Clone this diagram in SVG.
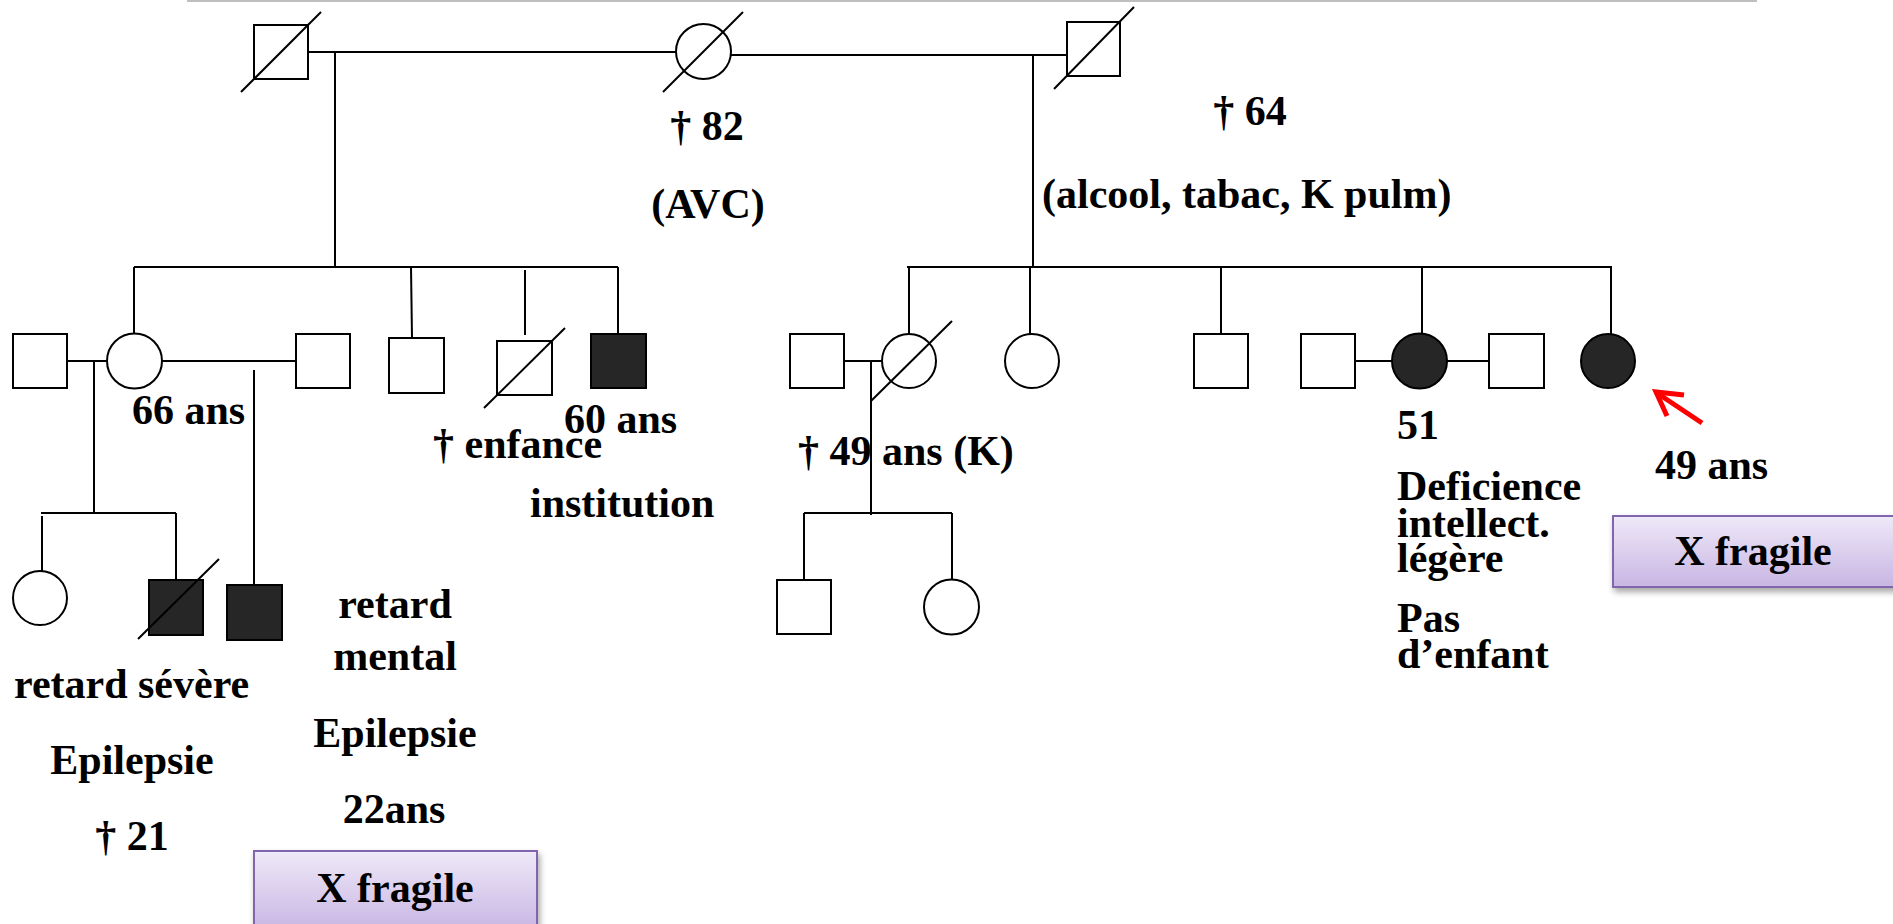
<svg xmlns="http://www.w3.org/2000/svg" width="1893" height="924" viewBox="0 0 1893 924">
<style>
.s{fill:#ffffff;stroke:#000;stroke-width:2}
.a{fill:#262626;stroke:#000;stroke-width:2}
.l{stroke:#000;stroke-width:2;fill:none}
text{font-family:"Liberation Serif","Times New Roman",serif;font-weight:bold;font-size:42px;fill:#000}
.c{text-anchor:middle}
.box{fill:url(#g);stroke:#8266ad;stroke-width:2;filter:url(#sh)}
</style>
<defs>
<linearGradient id="g" x1="0" y1="0" x2="0" y2="1">
<stop offset="0" stop-color="#efe9f8"/>
<stop offset="1" stop-color="#c8b5e3"/>
</linearGradient>
<filter id="sh" x="-10%" y="-20%" width="130%" height="160%">
<feDropShadow dx="2" dy="4" stdDeviation="3" flood-color="#000" flood-opacity="0.35"/>
</filter>
</defs>
<rect width="1893" height="924" fill="#fff"/>
<line x1="187" y1="1" x2="1757" y2="1" stroke="#bfbfbf" stroke-width="2"/>

<g id="connectors" class="l">
<line x1="308" y1="52" x2="676" y2="52"/>
<line x1="335" y1="52" x2="335" y2="267"/>
<line x1="731" y1="55" x2="1067" y2="55"/>
<line x1="1033" y1="55" x2="1033" y2="267"/>
<line x1="134" y1="267" x2="618" y2="267"/>
<line x1="134" y1="267" x2="134" y2="334"/>
<line x1="411" y1="267" x2="412" y2="338"/>
<line x1="525" y1="270" x2="525" y2="335"/>
<line x1="618" y1="267" x2="618" y2="334"/>
<line x1="67" y1="361" x2="107" y2="361"/>
<line x1="94" y1="361" x2="94" y2="513"/>
<line x1="162" y1="361" x2="299" y2="361"/>
<line x1="254" y1="370" x2="254" y2="585"/>
<line x1="41" y1="513" x2="176" y2="513"/>
<line x1="42" y1="516" x2="42" y2="582"/>
<line x1="176" y1="513" x2="176" y2="580"/>
<line x1="907" y1="267" x2="1612" y2="267"/>
<line x1="909" y1="267" x2="909" y2="334"/>
<line x1="1030" y1="267" x2="1030" y2="334"/>
<line x1="1221" y1="267" x2="1221" y2="334"/>
<line x1="1422" y1="267" x2="1422" y2="334"/>
<line x1="1611" y1="267" x2="1611" y2="334"/>
<line x1="842" y1="361" x2="882" y2="361"/>
<line x1="871" y1="361" x2="871" y2="515"/>
<line x1="804" y1="513" x2="952" y2="513"/>
<line x1="804" y1="513" x2="804" y2="580"/>
<line x1="952" y1="513" x2="952" y2="580"/>
<line x1="1353" y1="361" x2="1392" y2="361"/>
<line x1="1447" y1="361" x2="1489" y2="361"/>
</g>

<g id="gf1"><rect class="s" x="254" y="25" width="54" height="54"/><line class="l" x1="241" y1="92" x2="321" y2="12"/></g>
<g id="gm"><circle class="s" cx="703.5" cy="51.5" r="27.5"/><line class="l" x1="663" y1="92" x2="743" y2="12"/>
<text class="c" x="707" y="140">† 82</text><text class="c" x="708" y="218">(AVC)</text></g>
<g id="gf2"><rect class="s" x="1067" y="22" width="53" height="54"/><line class="l" x1="1054" y1="89" x2="1134" y2="7"/>
<text class="c" x="1250" y="125">† 64</text><text x="1042" y="208">(alcool, tabac, K pulm)</text></g>

<g id="h1"><rect class="s" x="13" y="334" width="54" height="54"/></g>
<g id="m66"><circle class="s" cx="134.5" cy="361" r="27.5"/><text x="132" y="424">66 ans</text></g>
<g id="h2"><rect class="s" x="296" y="334" width="54" height="54"/></g>
<g id="b1"><rect class="s" x="389" y="338" width="55" height="55"/></g>
<g id="b2"><rect class="s" x="497" y="341" width="55" height="54"/><line class="l" x1="484" y1="408" x2="565" y2="328"/>
<text x="433" y="458">† enfance</text></g>
<g id="b3"><rect class="a" x="591" y="334" width="55" height="54"/><text x="564" y="433">60 ans</text><text x="530" y="517">institution</text></g>

<g id="c1"><circle class="s" cx="40" cy="598" r="27"/></g>
<g id="c2"><rect class="a" x="149" y="580" width="54" height="55"/><line class="l" x1="138" y1="639" x2="219" y2="559"/>
<text x="14" y="698">retard sévère</text><text class="c" x="132" y="774">Epilepsie</text><text class="c" x="132" y="850">† 21</text></g>
<g id="c3"><rect class="a" x="227" y="585" width="55" height="55"/>
<text class="c" x="395" y="618">retard</text><text class="c" x="395" y="670">mental</text><text class="c" x="395" y="747">Epilepsie</text><text class="c" x="394" y="823">22ans</text></g>
<g id="xf1"><rect class="box" x="254" y="851" width="283" height="80"/><text class="c" x="395" y="902">X fragile</text></g>

<g id="h3"><rect class="s" x="790" y="334" width="54" height="54"/></g>
<g id="d49"><circle class="s" cx="909" cy="361" r="27"/><line class="l" x1="871" y1="401" x2="952" y2="321"/>
<text x="798" y="465">† 49 ans (K)</text></g>
<g id="s1"><circle class="s" cx="1032" cy="361" r="27"/></g>
<g id="gc1"><rect class="s" x="777" y="580" width="54" height="54"/></g>
<g id="gc2"><circle class="s" cx="951.5" cy="607" r="27.5"/></g>
<g id="b4"><rect class="s" x="1194" y="334" width="54" height="54"/></g>
<g id="h4"><rect class="s" x="1301" y="334" width="54" height="54"/></g>
<g id="s51"><circle class="a" cx="1419.5" cy="361" r="27.5"/>
<text x="1397" y="439">51</text><text x="1397" y="500">Deficience</text><text x="1397" y="537">intellect.</text><text x="1397" y="572">légère</text><text x="1397" y="632">Pas</text><text x="1397" y="668">d’enfant</text></g>
<g id="h5"><rect class="s" x="1489" y="334" width="55" height="54"/></g>
<g id="proband"><circle class="a" cx="1608" cy="361" r="27"/><text x="1655" y="479">49 ans</text>
<path d="M1702,423 L1660,395" stroke="#ff0000" stroke-width="5" fill="none"/>
<path d="M1684,395 L1656,392 L1667,416" stroke="#ff0000" stroke-width="5" fill="none" stroke-linejoin="miter"/></g>
<g id="xf2"><rect class="box" x="1613" y="516" width="290" height="71"/><text class="c" x="1753" y="565">X fragile</text></g>
</svg>
